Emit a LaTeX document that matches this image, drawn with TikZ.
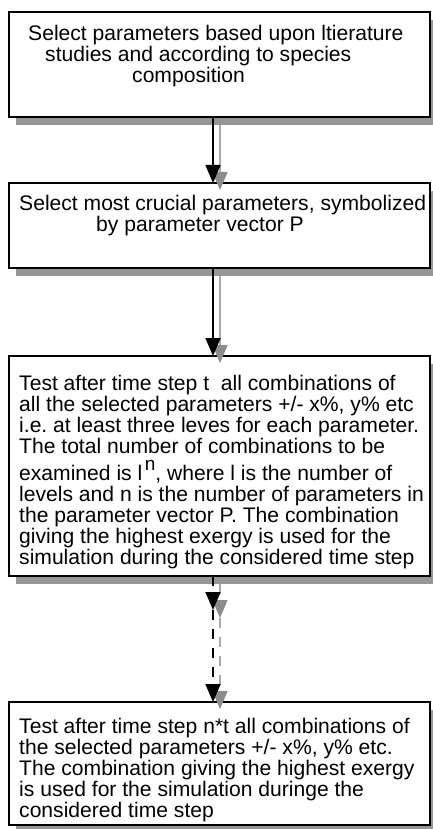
\documentclass[tikz,border=0pt]{standalone}
\usepackage{fontspec}
\setmainfont{Liberation Sans}
\usetikzlibrary{arrows.meta,shadows}
\definecolor{shgray}{RGB}{150,150,150}
\definecolor{lgray}{RGB}{170,170,170}
\definecolor{tipgray}{RGB}{140,140,140}
\frenchspacing
\begin{document}
\begin{tikzpicture}[x=1pt,y=-1pt,
  box/.style={draw=black, line width=1.8pt, fill=white, minimum width=421pt,
    anchor=north west, inner sep=0pt, outer sep=0pt,
    drop shadow={shadow xshift=7pt, shadow yshift=-8pt, fill=shgray, opacity=1}},
  txt/.style={anchor=north west, inner sep=0pt, align=left,
    font=\fontsize{21.1}{21}\selectfont},
  conn/.style={draw=black, line width=1.6pt, -{Triangle[length=18pt,width=15pt]}},
  connsh/.style={draw=lgray, line width=1.3pt, -{Triangle[length=18pt,width=15pt,color=tipgray]}},
  dsh/.style={dash pattern=on 10pt off 9pt}
]
\useasboundingbox[fill=white] (0,0) rectangle (432,829);

% boxes
\node[box, minimum height=105pt] (b1) at (9,12) {};
\node[box, minimum height=85pt]  (b2) at (9,183) {};
\node[box, minimum height=220pt] (b3) at (9,356) {};
\node[box, minimum height=123pt] (b4) at (9,702) {};

% texts
\node[txt] (t1) at (28,24) {\rule{0pt}{16pt}Select parameters based upon ltierature\\
\hspace*{17pt}studies and according to species\\
\hspace*{104pt}composition};
\node[txt] (t2) at (19,194) {\rule{0pt}{16pt}Select most crucial parameters, symbolized\\
\hspace*{77pt}by parameter vector P};
\node[txt] (t3) at (19,374) {\rule{0pt}{16pt}Test after time step t \ all combinations of\\
all the selected parameters +/- x\%, y\% etc\\
i.e. at least three leves for each parameter.\\
The total number of combinations to be\\[6pt]
examined is l\hspace{2.5pt}\smash{\raisebox{10pt}{\fontsize{19}{19}\selectfont n}}, where l is the number of\\
levels and n is the number of parameters in\\
the parameter vector P. The combination\\
giving the highest exergy is used for the\\
simulation during the considered time step};
\node[txt] (t4) at (19,717) {\rule{0pt}{16pt}Test after time step n*t all combinations of\\
the selected parameters +/- x\%, y\% etc.\\
The combination giving the highest exergy\\
is used for the simulation duringe the\\
considered time step};

% intermediate points of the dashed connectors
\coordinate (m) at (213,610);
\coordinate (ms) at (220,618);

% shadow connectors
\draw[connsh] ([xshift=0.5pt,yshift=-8pt]b1.south) -- ([xshift=0.5pt,yshift=-7pt]b2.north);
\draw[connsh] ([xshift=0.5pt,yshift=-8pt]b2.south) -- ([xshift=0.5pt,yshift=-7pt]b3.north);
\draw[connsh,dsh] ([xshift=0.5pt,yshift=-8pt]b3.south) -- (ms);
\draw[connsh,dsh] (ms) -- ([xshift=0.5pt,yshift=-7pt]b4.north);

% black connectors
\draw[conn] ([xshift=-6.5pt]b1.south) -- ([xshift=-6.5pt]b2.north);
\draw[conn] ([xshift=-6.5pt]b2.south) -- ([xshift=-6.5pt]b3.north);
\draw[conn,dsh] ([xshift=-6.5pt]b3.south) -- (m);
\draw[conn,dsh] (m) -- ([xshift=-6.5pt]b4.north);
\end{tikzpicture}
\end{document}
